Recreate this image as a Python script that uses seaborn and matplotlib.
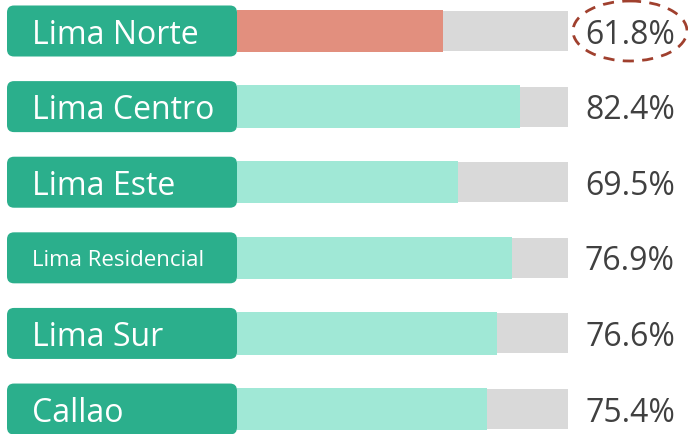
import matplotlib
matplotlib.use('Agg')
import matplotlib.pyplot as plt
from matplotlib.patches import FancyBboxPatch, Ellipse
import seaborn as sns
import pandas as pd

# data
regions = ['Lima Norte', 'Lima Centro', 'Lima Este', 'Lima Residencial', 'Lima Sur', 'Callao']
pct_labels = [61.8, 82.4, 69.5, 76.9, 76.6, 75.4]
bar_fill = [62.2, 85.5, 66.8, 83.1, 78.5, 75.5]   # length of the coloured part of each bar
bar_total = [100, 100, 100, 100, 100, 100]
label_sizes = [23, 23, 23, 16, 23, 23]
highlight = 'Lima Norte'

GREEN = '#2BAF8C'
TEAL = '#A0E8D6'
ORANGE = '#E28F7E'
GREY = '#D9D9D9'
RING = '#A0402E'
TXT = '#404040'

df = pd.DataFrame({'region': regions, 'fill': bar_fill, 'total': bar_total, 'pct': pct_labels})

sns.set_style('white')
plt.rcParams['font.family'] = ['Open Sans', 'DejaVu Sans']

fig = plt.figure(figsize=(6.88, 4.34), dpi=100)
# axes spans the bar track only (pixels 237..568), full height
ax = fig.add_axes([237 / 688, 0, (568 - 237) / 688, 1])

sns.barplot(data=df, y='region', x='total', color=GREY, width=0.53, orient='h', ax=ax)
pal = {r: (ORANGE if r == highlight else TEAL) for r in regions}
sns.barplot(data=df, y='region', x='fill', hue='region', palette=pal, width=0.56,
            orient='h', dodge=False, legend=False, ax=ax, saturation=1)
for p in ax.patches:
    p.set_edgecolor('none')

ax.set_xlim(0, 100)
ax.set_ylim(5.33, -0.41)
ax.axis('off')

px_x = 100 / 331   # data units per pixel along x
px_y = 1 / 75.6    # data units per pixel along y

for i, row in df.iterrows():
    # green label box to the left of the bar
    bw = 230 * px_x
    bh = 51 * px_y
    box = FancyBboxPatch((-bw, i - bh / 2), bw, bh,
                         boxstyle='round,pad=0,rounding_size=%f' % (7 * px_x),
                         mutation_aspect=px_y / px_x, facecolor=GREEN, edgecolor='none',
                         clip_on=False, transform=ax.transData)
    ax.add_patch(box)
    ax.text(-205 * px_x, i, row['region'], color='white', fontsize=label_sizes[i],
            ha='left', va='center_baseline', clip_on=False)
    ax.text(393 * px_x, i, f"{row['pct']:.1f}%", color=TXT, fontsize=23,
            ha='center', va='center_baseline', clip_on=False)

# dashed ring around the highlighted value
hi = regions.index(highlight)
ax.add_patch(Ellipse((393 * px_x, hi), 114 * px_x, 60 * px_y, fill=False,
                     edgecolor=RING, linestyle=(0, (4, 3)), linewidth=2, clip_on=False))

plt.savefig('out.png', dpi=100)
